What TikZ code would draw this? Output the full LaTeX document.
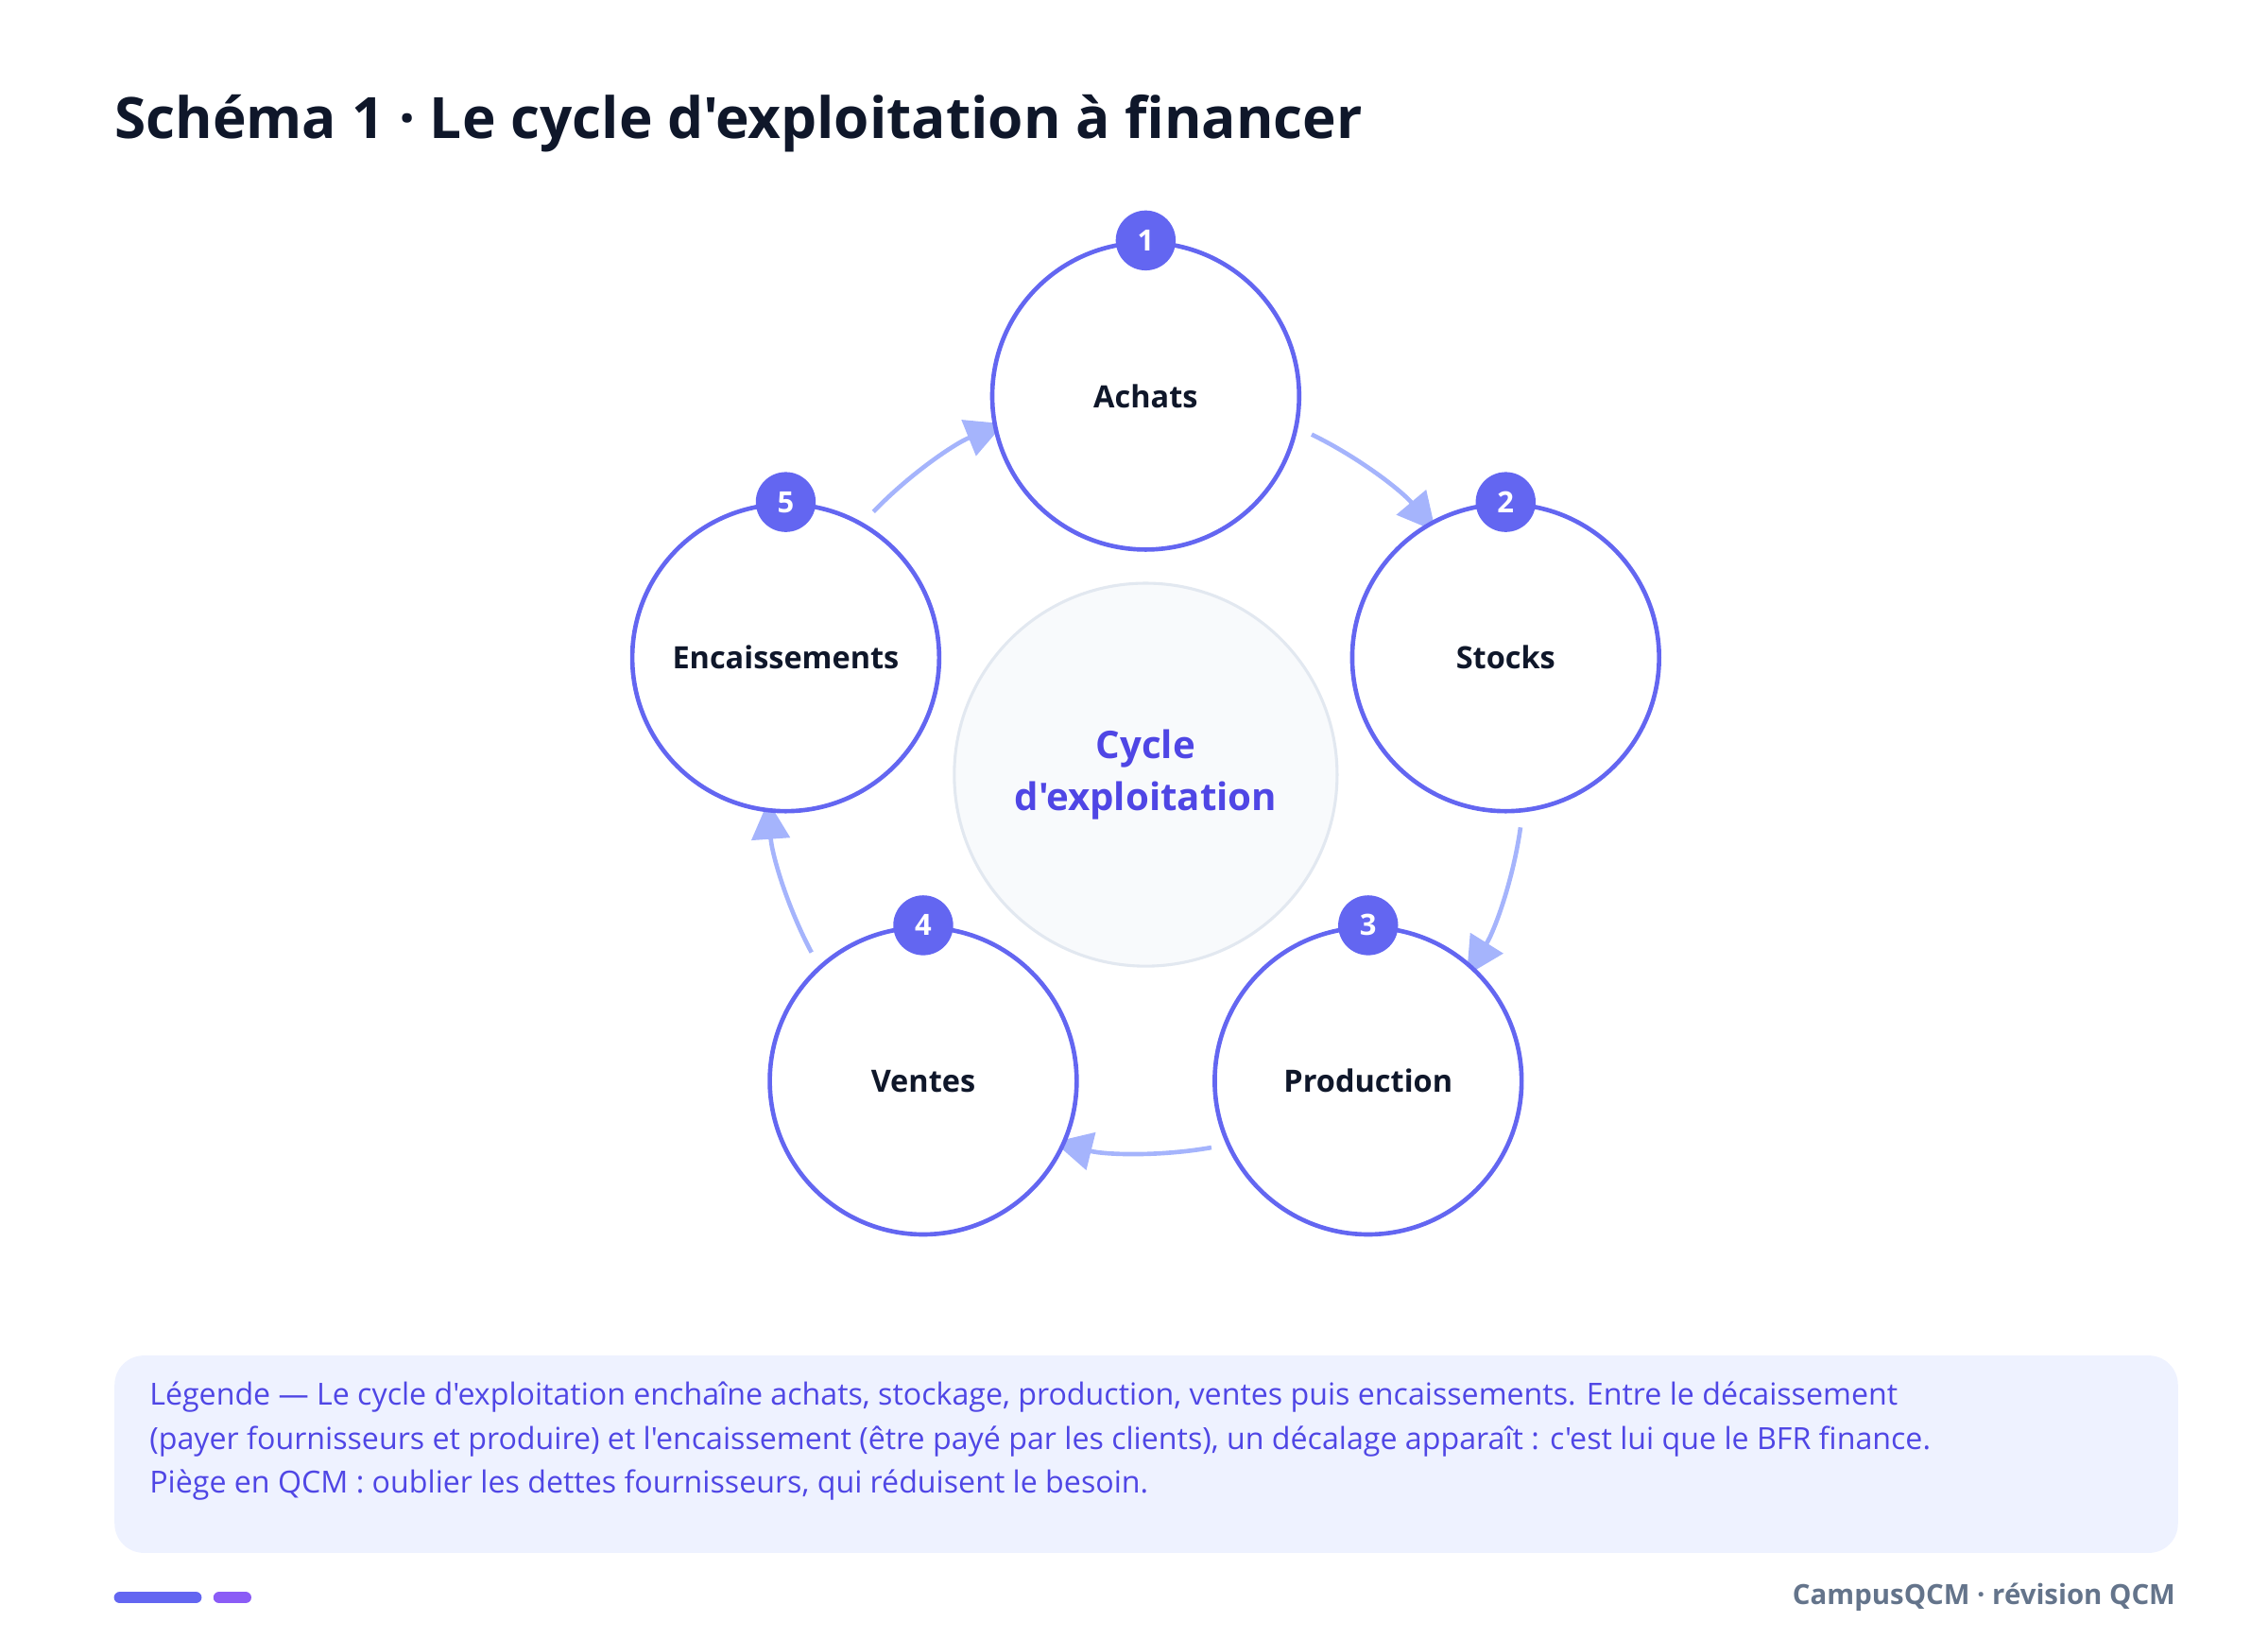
\documentclass[tikz,border=0pt]{standalone}
\usepackage{fontspec}
\setmainfont{Open Sans}[Ligatures=TeXOff]
\usetikzlibrary{arrows.meta,calc}
\definecolor{ind}{HTML}{6366F1}
\definecolor{indt}{HTML}{4F46E5}
\definecolor{flowc}{HTML}{A5B4FC}
\definecolor{ink}{HTML}{0F172A}
\definecolor{legbg}{HTML}{EEF2FF}
\definecolor{gry}{HTML}{64748B}
\definecolor{purp}{HTML}{8B5CF6}
\definecolor{ctrfill}{HTML}{F8FAFC}
\definecolor{ctrline}{HTML}{E2E8F0}
\begin{document}
\begin{tikzpicture}[x=0.5pt,y=0.5pt,
  stepnode/.style={circle,draw=ind,line width=1.5pt,fill=white,minimum size=105pt,inner sep=0,font=\fontsize{10.5}{12}\selectfont\bfseries,text=ink},
  badge/.style={circle,fill=ind,minimum size=20.5pt,inner sep=0,text=white,font=\fontsize{10}{12}\selectfont\bfseries},
  flow/.style={draw=flowc,line width=1.5pt,-{Triangle[length=13pt,width=13pt]}}]
\useasboundingbox (0,0) rectangle (1552,1121);
\node[anchor=base west,text=ink,font=\fontsize{19.5}{24}\selectfont\bfseries,inner sep=0] (title) at (78,1026) {Schéma 1 · Le cycle d'exploitation à financer};
\node[circle,draw=ctrline,line width=1pt,fill=ctrfill,minimum size=131pt,inner sep=0,align=center,text=indt,font=\fontsize{13}{18}\selectfont\bfseries] (ctr) at (784,591) {Cycle\\d'exploitation};
\foreach \a/\b in {90/18,18/-54,-54/-126,-126/-198,162/90}{
  \pgfmathsetmacro{\s}{\a-26}\pgfmathsetmacro{\e}{\b+22}
  \draw[flow] ($(ctr.center)+(\s:259)$) arc[start angle=\s,end angle=\e,radius=259];
}
\foreach \i/\a/\t in {1/90/Achats,2/18/Stocks,3/-54/Production,4/-126/Ventes,5/162/Encaissements}{
  \node[stepnode] (n\i) at ($(784,591)+(\a:259)$) {\t};
  \node[badge] (b\i) at (n\i.north) {\i};
}
\node[fill=legbg,rounded corners=10pt,minimum width=706pt,minimum height=67.5pt,inner sep=0,anchor=north west] (leg) at (78,194) {};
\node[anchor=north west,align=left,text=indt,font=\fontsize{10.4}{15}\selectfont,inner sep=0] (legt) at (102,176) {Légende — Le cycle d'exploitation enchaîne achats, stockage, production, ventes puis encaissements. Entre le décaissement\\(payer fournisseurs et produire) et l'encaissement (être payé par les clients), un décalage apparaît : c'est lui que le BFR finance.\\Piège en QCM : oublier les dettes fournisseurs, qui réduisent le besoin.};
\draw[ind,line width=4pt,line cap=round] (82,28) coordinate (p1) -- (134,28) coordinate (p2);
\draw[purp,line width=4pt,line cap=round] (150,28) coordinate (p3) -- (168,28) coordinate (p4);
\node[anchor=east,text=gry,font=\fontsize{9.5}{12}\selectfont\bfseries,inner sep=0] (foot) at (1489,28) {CampusQCM · révision QCM};
\end{tikzpicture}
\end{document}
